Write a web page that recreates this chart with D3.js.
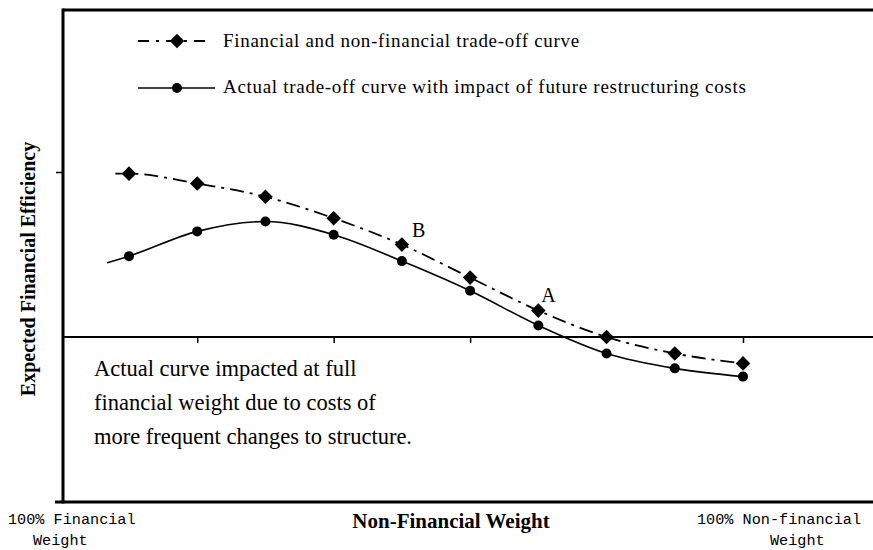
<!DOCTYPE html>
<html>
<head>
<meta charset="utf-8">
<script src="https://cdn.jsdelivr.net/npm/d3@7"></script>
<style>
  body { margin: 0; background: #fff; }
  svg { display: block; }
</style>
</head>
<body>
<svg id="svg" width="873" height="550"></svg>
<script>
// steps from 100% financial weight (0) to 100% non-financial weight (9)
const weightSteps = [0, 1, 2, 3, 4, 5, 6, 7, 8, 9];
const tradeOffValues = [0.99, 0.93, 0.85, 0.72, 0.56, 0.36, 0.16, 0.0, -0.10, -0.16];
const actualValues = [0.49, 0.64, 0.70, 0.62, 0.46, 0.28, 0.07, -0.10, -0.19, -0.24];
// short run of line drawn before the first marker
const tradeOffLead = [-0.2, 0.99];
const actualLead = [-0.32, 0.45];
const xTickSteps = [1, 3, 5, 7, 9];
const yTickValues = [1];
const legendLabels = [
    "Financial and non-financial trade-off curve",
    "Actual trade-off curve with impact of future restructuring costs"
];
const noteLines = [
    "Actual curve impacted at full",
    "financial weight due to costs of",
    "more frequent changes to structure."
];

const svg = d3.select("#svg");
const frameLeft = 63, frameTop = 10, frameBottom = 502, frameRight = 873;

const x = d3.scaleLinear().domain([0, 9]).range([129, 743]);
const y = d3.scaleLinear().domain([-1, 1]).range([frameBottom, 172]);

const serif = "'Liberation Serif', 'Times New Roman', serif";
const mono = "'Liberation Mono', 'Courier New', monospace";

// frame
svg.append("line").attr("x1", frameLeft).attr("x2", frameRight).attr("y1", frameTop).attr("y2", frameTop)
    .attr("stroke", "#000").attr("stroke-width", 3);
svg.append("line").attr("x1", frameLeft).attr("x2", frameLeft).attr("y1", frameTop - 1.5).attr("y2", frameBottom + 1.5)
    .attr("stroke", "#000").attr("stroke-width", 3);
svg.append("line").attr("x1", 55).attr("x2", frameRight).attr("y1", frameBottom).attr("y2", frameBottom)
    .attr("stroke", "#000").attr("stroke-width", 3);

// zero line with ticks
const xAxis = svg.append("g")
    .attr("transform", `translate(0, ${y(0)})`)
    .call(d3.axisBottom(x).tickValues(xTickSteps).tickSize(6).tickFormat(""));
xAxis.select(".domain").remove();
xAxis.append("line").attr("x1", frameLeft).attr("x2", frameRight)
    .attr("stroke", "#000").attr("stroke-width", 2);
xAxis.selectAll(".tick line").attr("stroke-width", 1.5);

const yAxis = svg.append("g")
    .attr("transform", `translate(${frameLeft}, 0)`)
    .call(d3.axisLeft(y).tickValues(yTickValues).tickSize(7).tickFormat(""));
yAxis.select(".domain").remove();
yAxis.selectAll(".tick line").attr("stroke-width", 1.5);

// curves
const line = d3.line()
    .x(d => x(d[0]))
    .y(d => y(d[1]))
    .curve(d3.curveMonotoneX);

const tradeOffPts = [tradeOffLead].concat(weightSteps.map((s, i) => [s, tradeOffValues[i]]));
const actualPts = [actualLead].concat(weightSteps.map((s, i) => [s, actualValues[i]]));

svg.append("path")
    .attr("d", line(actualPts))
    .attr("fill", "none").attr("stroke", "#000").attr("stroke-width", 1.6);

svg.append("path")
    .attr("d", line(tradeOffPts))
    .attr("fill", "none").attr("stroke", "#000").attr("stroke-width", 1.8)
    .attr("stroke-dasharray", "14,6,3,6");

const diamond = d3.symbol().type(d3.symbolDiamond2).size(135);

svg.append("g").selectAll("circle")
    .data(weightSteps)
    .join("circle")
    .attr("cx", d => x(d))
    .attr("cy", (d, i) => y(actualValues[i]))
    .attr("r", 5)
    .attr("fill", "#000");

svg.append("g").selectAll("path")
    .data(weightSteps)
    .join("path")
    .attr("d", diamond)
    .attr("transform", (d, i) => `translate(${x(d)}, ${y(tradeOffValues[i])})`)
    .attr("fill", "#000");

// point labels
svg.append("text").attr("x", x(4) + 10).attr("y", y(tradeOffValues[4]) - 8)
    .attr("font-family", serif).attr("font-size", 20).text("B");
svg.append("text").attr("x", x(6) + 3).attr("y", y(tradeOffValues[6]) - 9)
    .attr("font-family", serif).attr("font-size", 20).text("A");

// legend
const legend = svg.append("g");
legend.append("line").attr("x1", 138).attr("x2", 210).attr("y1", 41).attr("y2", 41)
    .attr("stroke", "#000").attr("stroke-width", 1.8).attr("stroke-dasharray", "11,7,3,7");
legend.append("path").attr("d", diamond).attr("transform", "translate(177, 41)");
legend.append("line").attr("x1", 138).attr("x2", 215).attr("y1", 88).attr("y2", 88)
    .attr("stroke", "#000").attr("stroke-width", 1.4);
legend.append("circle").attr("cx", 177).attr("cy", 88).attr("r", 5);
legend.selectAll("text")
    .data(legendLabels)
    .join("text")
    .attr("x", 223)
    .attr("y", (d, i) => 47 + i * 46)
    .attr("font-family", serif)
    .attr("font-size", 19)
    .attr("letter-spacing", 0.7)
    .text(d => d);

// note
svg.append("g").selectAll("text")
    .data(noteLines)
    .join("text")
    .attr("x", 94)
    .attr("y", (d, i) => 376 + i * 34)
    .attr("font-family", serif)
    .attr("font-size", 22.5)
    .text(d => d);

// axis titles
svg.append("text")
    .attr("transform", "translate(35, 269) rotate(-90)")
    .attr("text-anchor", "middle")
    .attr("font-family", serif).attr("font-weight", "bold").attr("font-size", 20)
    .text("Expected Financial Efficiency");
svg.append("text")
    .attr("x", 451).attr("y", 528)
    .attr("text-anchor", "middle")
    .attr("font-family", serif).attr("font-weight", "bold").attr("font-size", 21)
    .text("Non-Financial Weight");

const endLabels = [
    { lines: ["100% Financial", "Weight"], xs: [8, 33] },
    { lines: ["100% Non-financial", "Weight"], xs: [697, 770] }
];
endLabels.forEach(l => {
    l.lines.forEach((t, i) => {
        svg.append("text")
            .attr("x", l.xs[i]).attr("y", 524 + i * 21)
            .attr("font-family", mono).attr("font-size", 15.2)
            .text(t);
    });
});
</script>
</body>
</html>
